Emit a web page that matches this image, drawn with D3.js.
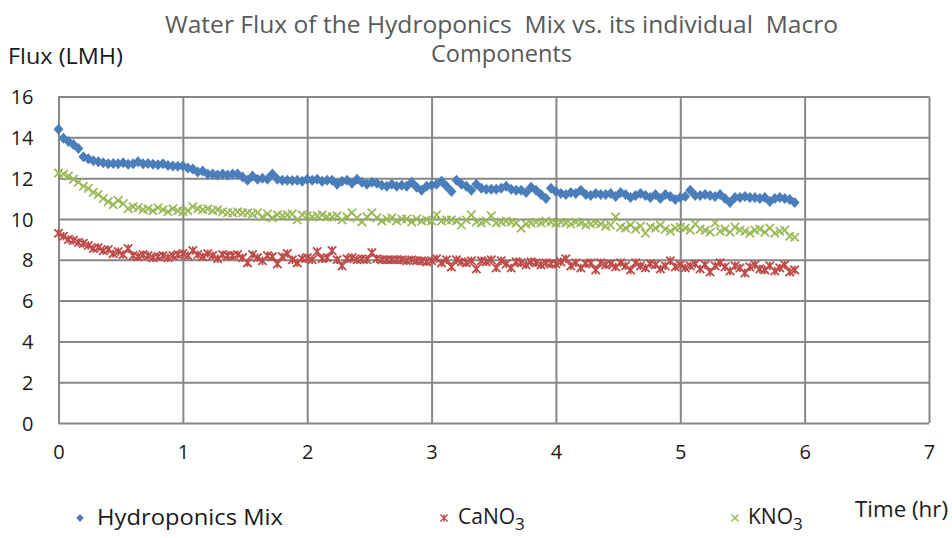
<!DOCTYPE html>
<html><head><meta charset="utf-8">
<script src="https://cdn.jsdelivr.net/npm/d3@7"></script>
<style>html,body{margin:0;padding:0;background:#fff;}svg{display:block;}text{white-space:pre;}</style>
</head><body>
<script>
const timeHr = [
0,0.04,0.08,0.12,0.16,0.2,0.24,0.28,0.32,0.36,0.4,0.44,0.48,0.52,0.56,0.6,0.64,0.68,0.72,0.76,0.8,0.84,0.88,0.92,0.96,
1,1.04,1.08,1.12,1.16,1.2,1.24,1.28,1.32,1.36,1.4,1.44,1.48,1.52,1.56,1.6,1.64,1.68,1.72,1.76,1.8,1.84,1.88,1.92,1.96,
2,2.04,2.08,2.12,2.16,2.2,2.24,2.28,2.32,2.36,2.4,2.44,2.48,2.52,2.56,2.6,2.64,2.68,2.72,2.76,2.8,2.84,2.88,2.92,2.96,
3,3.04,3.08,3.12,3.16,3.2,3.24,3.28,3.32,3.36,3.4,3.44,3.48,3.52,3.56,3.6,3.64,3.68,3.72,3.76,3.8,3.84,3.88,3.92,3.96,
4,4.04,4.08,4.12,4.16,4.2,4.24,4.28,4.32,4.36,4.4,4.44,4.48,4.52,4.56,4.6,4.64,4.68,4.72,4.76,4.8,4.84,4.88,4.92,4.96,
5,5.04,5.08,5.12,5.16,5.2,5.24,5.28,5.32,5.36,5.4,5.44,5.48,5.52,5.56,5.6,5.64,5.68,5.72,5.76,5.8,5.84,5.88,5.92];

const hydroponicsMix = [
14.4,13.95,13.8,13.65,13.45,13.05,12.95,12.85,12.8,12.75,12.7,12.72,12.7,12.75,12.68,12.7,12.8,12.7,12.72,12.68,12.65,12.7,12.62,12.6,12.58,
12.6,12.5,12.45,12.3,12.35,12.2,12.2,12.15,12.2,12.15,12.2,12.2,12.05,11.9,12.1,11.95,12.0,11.95,12.2,11.95,11.9,11.9,11.88,11.9,11.85,
11.95,11.9,11.95,11.85,11.9,11.9,11.7,11.85,11.9,11.75,11.95,11.8,11.7,11.8,11.75,11.65,11.6,11.7,11.6,11.65,11.6,11.8,11.55,11.4,11.6,
11.65,11.7,11.85,11.6,11.35,11.9,11.7,11.6,11.4,11.7,11.5,11.45,11.45,11.45,11.5,11.6,11.45,11.4,11.4,11.3,11.55,11.4,11.2,11.0,11.5,
11.35,11.25,11.2,11.3,11.25,11.4,11.2,11.15,11.25,11.2,11.2,11.25,11.1,11.3,11.2,11.05,11.15,11.25,11.15,11.05,11.2,11.0,11.2,11.1,10.95,
11.05,11.1,11.4,11.15,11.15,11.2,11.15,11.1,11.2,11.0,10.8,11.05,11.05,11.1,11.05,11.05,11.0,11.05,10.85,11.0,11.05,11.0,10.95,10.8];

const caNO3 = [
9.3,9.15,9.0,8.95,8.85,8.8,8.7,8.55,8.6,8.45,8.5,8.3,8.4,8.25,8.55,8.2,8.15,8.25,8.2,8.1,8.15,8.2,8.1,8.2,8.25,
8.3,8.2,8.45,8.25,8.15,8.3,8.2,8.05,8.25,8.2,8.2,8.25,8.1,7.85,8.25,8.1,7.95,8.2,8.15,7.8,8.15,8.3,8.0,7.85,8.05,
8.1,8.0,8.4,8.05,8.1,8.45,8.0,7.7,8.05,8.1,8.0,8.05,8.0,8.35,8.05,8.0,8.0,8.0,8.0,8.0,7.95,8.0,7.95,7.95,7.9,
7.95,8.05,7.85,8.0,7.65,8.0,7.9,7.85,7.95,7.55,7.95,7.9,8.0,7.6,7.95,7.8,7.6,7.9,7.85,7.75,7.9,7.85,7.75,7.85,7.8,
7.8,7.9,8.05,7.7,7.85,7.6,7.8,7.85,7.5,7.85,7.75,7.8,7.65,7.85,7.7,7.5,7.85,7.7,7.6,7.8,7.75,7.55,7.7,7.95,7.65,
7.75,7.6,7.7,7.8,7.55,7.75,7.4,7.7,7.85,7.65,7.45,7.7,7.6,7.35,7.65,7.75,7.55,7.5,7.7,7.45,7.6,7.75,7.4,7.5];

const kNO3 = [
12.25,12.2,12.1,11.95,11.8,11.6,11.5,11.3,11.2,11.0,10.85,10.7,10.9,10.75,10.5,10.6,10.55,10.45,10.5,10.4,10.55,10.45,10.35,10.5,10.4,
10.35,10.4,10.6,10.5,10.45,10.5,10.4,10.45,10.35,10.3,10.3,10.35,10.3,10.3,10.25,10.3,10.1,10.25,10.05,10.2,10.15,10.2,10.25,9.95,10.2,
10.15,10.1,10.15,10.2,10.1,10.1,10.15,9.95,10.1,10.3,10.05,9.85,10.1,10.3,10.05,9.9,10.0,10.05,9.9,10.0,10.0,9.85,10.0,9.9,9.95,
9.9,10.2,9.9,9.95,9.95,9.9,9.7,9.95,10.2,9.85,9.8,9.9,10.15,9.8,9.85,9.9,9.85,9.8,9.55,9.75,9.8,9.85,9.8,9.9,9.85,
9.8,9.85,9.8,9.75,9.85,9.8,9.7,9.75,9.8,9.75,9.65,9.7,10.1,9.6,9.55,9.7,9.5,9.65,9.3,9.6,9.55,9.7,9.5,9.4,9.55,
9.6,9.55,9.45,9.75,9.5,9.45,9.35,9.8,9.4,9.5,9.35,9.6,9.45,9.4,9.3,9.45,9.5,9.35,9.55,9.3,9.4,9.45,9.15,9.1];

const xTicks = [0,1,2,3,4,5,6,7];
const yTicks = [0,2,4,6,8,10,12,14,16];
const titleLines = ["Water Flux of the Hydroponics  Mix vs. its individual  Macro", "Components"];
const yAxisTitle = "Flux (LMH)";
const xAxisTitle = "Time (hr)";

const W = 952, H = 538;
const FONT = "'Open Sans', sans-serif";
const svg = d3.select("body").append("svg").attr("width", W).attr("height", H);
svg.append("rect").attr("width", W).attr("height", H).attr("fill", "#fff");

const x = d3.scaleLinear().domain([0, 7]).range([58.5, 929]);
const y = d3.scaleLinear().domain([0, 16]).range([423, 96.5]);
const gridColor = "#878787";

const gx = svg.append("g").attr("transform", `translate(0,${y(0)})`)
  .call(d3.axisBottom(x).tickValues(xTicks).tickSize(-(y(0) - y(16))).tickFormat(d3.format("d")).tickPadding(30));
const gy = svg.append("g").attr("transform", `translate(${x(0)},0)`)
  .call(d3.axisLeft(y).tickValues(yTicks).tickSize(-(x(7) - x(0))).tickFormat(d3.format("d")).tickPadding(25));
[gx, gy].forEach(g => {
  g.select(".domain").remove();
  g.selectAll(".tick line").attr("stroke", gridColor).attr("stroke-width", 2);
  g.selectAll(".tick text").attr("fill", "#1a1a1a").style("font-family", FONT).style("font-size", "20px");
});
gy.selectAll(".tick text").attr("dy", "0.36em");
gx.selectAll(".tick text").attr("dy", "0.3em");

function fitText(sel, len) { return sel.attr("textLength", len).attr("lengthAdjust", "spacingAndGlyphs"); }

fitText(svg.append("text").attr("x", 501.5).attr("y", 33).attr("text-anchor", "middle")
  .attr("fill", "#595959").style("font-family", FONT).style("font-size", "23px"), 673).text(titleLines[0]);
fitText(svg.append("text").attr("x", 501.5).attr("y", 62).attr("text-anchor", "middle")
  .attr("fill", "#595959").style("font-family", FONT).style("font-size", "23px"), 141).text(titleLines[1]);

fitText(svg.append("text").attr("x", 8).attr("y", 64).attr("fill", "#1a1a1a")
  .style("font-family", FONT).style("font-size", "21px"), 115).text(yAxisTitle);
fitText(svg.append("text").attr("x", 855).attr("y", 517).attr("fill", "#1a1a1a")
  .style("font-family", FONT).style("font-size", "21px"), 93).text(xAxisTitle);

const colors = { mix: "#4a7ebb", ca: "#be4b48", k: "#98b954" };

function diamond(g, cx, cy, r, col) {
  g.append("path").attr("d", `M${cx},${cy - r}L${cx + r * 0.9},${cy}L${cx},${cy + r}L${cx - r * 0.9},${cy}Z`).attr("fill", col);
}
function star(g, cx, cy, r, col, sw) {
  g.append("path").attr("d", `M${cx - r},${cy - r}L${cx + r},${cy + r}M${cx - r},${cy + r}L${cx + r},${cy - r}M${cx},${cy - r}L${cx},${cy + r}`)
    .attr("stroke", col).attr("stroke-width", sw).attr("fill", "none");
}
function cross(g, cx, cy, r, col, sw) {
  g.append("path").attr("d", `M${cx - r},${cy - r}L${cx + r},${cy + r}M${cx - r},${cy + r}L${cx + r},${cy - r}`)
    .attr("stroke", col).attr("stroke-width", sw).attr("fill", "none");
}

const plot = svg.append("g");
const gK = plot.append("g"), gCa = plot.append("g"), gMix = plot.append("g");
timeHr.forEach((t, i) => {
  cross(gK, x(t), y(kNO3[i]), 4.2, colors.k, 1.7);
  star(gCa, x(t), y(caNO3[i]), 4.2, colors.ca, 1.8);
  diamond(gMix, x(t), y(hydroponicsMix[i]), 5.5, colors.mix);
});

const lg = svg.append("g");
diamond(lg, 80, 518, 4, colors.mix);
fitText(lg.append("text").attr("x", 97).attr("y", 525).attr("fill", "#1a1a1a").style("font-family", FONT).style("font-size", "21px"), 186)
  .text("Hydroponics Mix");
star(lg, 444, 518, 3.6, colors.ca, 1.4);
const t1 = lg.append("text").attr("x", 458).attr("y", 524).attr("fill", "#1a1a1a").style("font-family", FONT).style("font-size", "21px");
t1.append("tspan").text("CaNO");
t1.append("tspan").attr("dy", 6).style("font-size", "17px").text("3");
cross(lg, 735, 518, 3.6, colors.k, 1.4);
const t2 = lg.append("text").attr("x", 748).attr("y", 524).attr("fill", "#1a1a1a").style("font-family", FONT).style("font-size", "21px");
t2.append("tspan").text("KNO");
t2.append("tspan").attr("dy", 6).style("font-size", "17px").text("3");
</script>
</body></html>
